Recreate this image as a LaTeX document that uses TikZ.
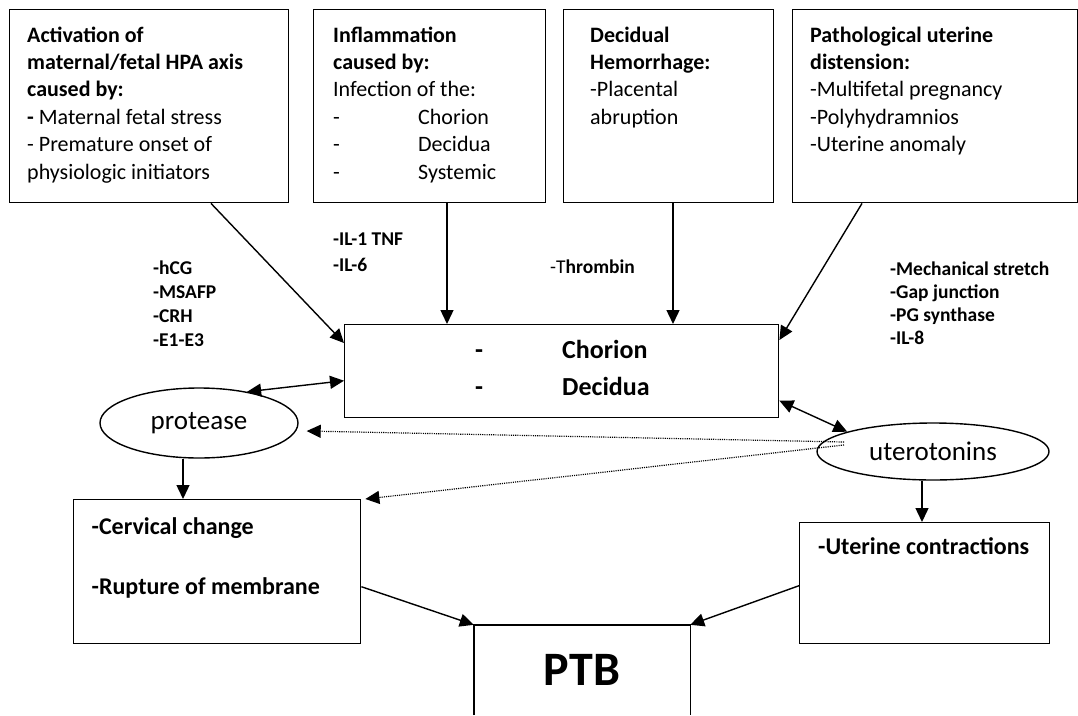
\documentclass[tikz,border=0pt]{standalone}
\usepackage{fontspec}
\setmainfont{Carlito}
\usetikzlibrary{arrows.meta,calc,shapes.geometric}
\begin{document}
\begin{tikzpicture}[x=1pt,y=-1pt,
  boxnode/.style={draw,line width=1.4pt,rectangle,inner sep=0,anchor=north west},
  txt/.style={inner sep=0,anchor=base west,align=left,font=\fontsize{22}{27.4}\selectfont},
  lbl/.style={inner sep=0,anchor=base west,align=left,font=\fontsize{19.5}{24}\selectfont\bfseries},
  low/.style={inner sep=0,anchor=base west,align=left,font=\fontsize{24}{60}\selectfont\bfseries},
  tipa/.tip={Triangle[length=14pt,width=13pt]},
  arr/.style={line width=1.4pt,-tipa},
  darr/.style={line width=1.4pt,tipa-tipa},
  dotarr/.style={line width=1.2pt,dash pattern=on 1.1pt off 1.1pt,-tipa},
  oval/.style={draw,line width=1.4pt,ellipse,inner sep=0,font=\fontsize{27}{30}\selectfont}
]
\useasboundingbox[fill=white] (0,0) rectangle (1078,715);

% top boxes
\node[boxnode,minimum width=279,minimum height=193] (b1) at (9,9) {};
\node[boxnode,minimum width=232,minimum height=193] (b2) at (313,9) {};
\node[boxnode,minimum width=210,minimum height=193] (b3) at (563,9) {};
\node[boxnode,minimum width=284.5,minimum height=193] (b4) at (792,9) {};

% (multi-line nodes: base anchor = baseline of the last line)
\node[txt] (t1) at (27,179) {\textbf{Activation of}\\\textbf{maternal/fetal HPA axis}\\\textbf{caused by:}\\\textbf{-} Maternal fetal stress\\- Premature onset of\\physiologic initiators};
\node[txt] (t2) at (333,179) {\textbf{Inflammation}\\\textbf{caused by:}\\Infection of the:\\\makebox[85pt][l]{-}Chorion\\\makebox[85pt][l]{-}Decidua\\\makebox[85pt][l]{-}Systemic};
\node[txt] (t3) at (590,124.2) {\textbf{Decidual}\\\textbf{Hemorrhage:}\\-Placental\\abruption};
\node[txt] (t4) at (810,151.6) {\textbf{Pathological uterine}\\\textbf{distension:}\\-Multifetal pregnancy\\-Polyhydramnios\\-Uterine anomaly};

% labels
\node[lbl] (l1) at (153,346) {-hCG\\-MSAFP\\-CRH\\-E1-E3};
\node[lbl,font=\fontsize{19.5}{26}\selectfont\bfseries] (l2) at (333,271) {-IL-1 TNF\\-IL-6};
\node[lbl] (l3) at (550,273) {{\mdseries -T}hrombin};
\node[lbl,font=\fontsize{19.5}{23}\selectfont\bfseries] (l4) at (890,344) {-Mechanical stretch\\-Gap junction\\-PG synthase\\-IL-8};

% center box
\node[boxnode,minimum width=434,minimum height=93] (ctr) at (344,324) {};
\node[inner sep=0,anchor=base west,align=left,font=\fontsize{26}{37}\selectfont\bfseries] (ct) at (475,395) {\makebox[87pt][l]{-}Chorion\\\makebox[87pt][l]{-}Decidua};

% ellipses
\node[oval,minimum width=198,minimum height=70] (prot) at (199,423) {protease};
\node[oval,minimum width=232,minimum height=57] (ut) at (933,451.5) {uterotonins};

% lower boxes
\node[boxnode,minimum width=287,minimum height=144] (cerv) at (73,499) {};
\node[low] (ct1) at (91.5,594) {-Cervical change\\-Rupture of membrane};
\node[boxnode,minimum width=250,minimum height=121] (contr) at (799,522) {};
\node[low] (ct2) at (818,554) {-Uterine contractions};

% PTB
\node[inner sep=0,minimum width=216,minimum height=90,font=\fontsize{48}{50}\selectfont\bfseries] (ptb) at (582,670) {PTB};
\draw[line width=1.4pt] (ptb.south west) -- (ptb.north west) -- (ptb.north east) -- (ptb.south east);

% connectors
\coordinate (s1) at ([xshift=202pt]b1.south west);
\coordinate (s2) at ([xshift=134pt]b2.south west);
\coordinate (s3) at ([xshift=110pt]b3.south west);
\coordinate (s4) at ([xshift=70pt]b4.south west);
\draw[arr] (s1) -- ([yshift=-19pt]ctr.north west);
\draw[arr] (s2) -- (s2 |- ctr.north);
\draw[arr] (s3) -- (s3 |- ctr.north);
\draw[arr] (s4) -- ([yshift=-16pt]ctr.north east);

\draw[darr] (prot.33) -- ([yshift=-9.5pt]ctr.west);
\draw[darr] ([yshift=-29.5pt]ctr.east) -- (ut.167);

\draw[dotarr] ($(ut.center)+(-89,-9.5)$) -- ([shift={(8,8)}]prot.east);
\draw[dotarr] ($(ut.center)+(-89,-6.5)$) -- ([xshift=4pt]cerv.north east);

\coordinate (p1) at ([xshift=-16pt]prot.south);
\draw[arr] (p1) -- (p1 |- cerv.north);
\coordinate (u1) at ([xshift=-11pt]ut.south);
\draw[arr] (u1) -- (u1 |- contr.north);

\draw[arr] ([yshift=-15pt]cerv.east) -- (ptb.north west);
\draw[arr] ([yshift=-2.5pt]contr.west) -- (ptb.north east);
\end{tikzpicture}
\end{document}
